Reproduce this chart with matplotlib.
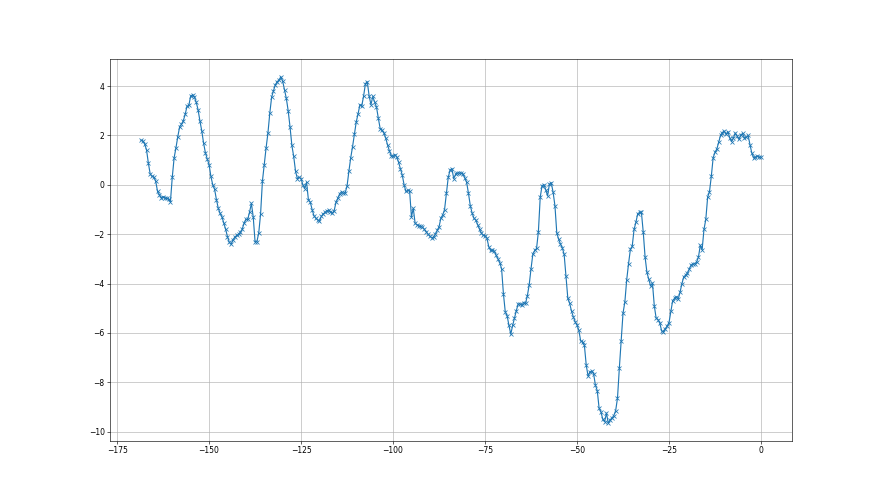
import numpy as np
import matplotlib
matplotlib.use("Agg")
import matplotlib.pyplot as plt

x_start = -168.5
x_step = 0.5

y_values = [
    1.80, 1.78, 1.65, 1.42, 0.88, 0.44, 0.34, 0.31, 0.14, -0.27,
    -0.40, -0.52, -0.48, -0.52, -0.55, -0.58, -0.68, 0.31, 1.09, 1.50,
    1.95, 2.35, 2.45, 2.60, 2.85, 3.18, 3.22, 3.60, 3.64, 3.56,
    3.35, 3.05, 2.60, 2.20, 1.70, 1.30, 1.05, 0.82, 0.34, 0.00,
    -0.18, -0.60, -0.95, -1.16, -1.30, -1.55, -1.80, -2.10, -2.33, -2.41,
    -2.22, -2.12, -2.05, -2.00, -1.92, -1.80, -1.56, -1.40,
    # -139.5
    -1.40, -1.11, -0.75, -1.30, -2.31, -2.30, -1.95, -1.18, 0.15, 0.82,
    1.50, 2.10, 2.90, 3.55, 3.81, 4.05, 4.18, 4.24, 4.38, 4.20,
    3.85, 3.50, 3.00, 2.35, 1.60, 1.15, 0.55, 0.25, 0.31, 0.25,
    0.00, -0.15, 0.10, -0.61, -0.70, -1.00, -1.25, -1.35, -1.42, -1.48,
    -1.28, -1.18, -1.12, -1.05, -1.03, -1.10, -1.15, -1.05, -0.70, -0.54,
    -0.36, -0.28, -0.35, -0.32, -0.05, 0.55, 1.10, 1.55, 2.05, 2.55,
    2.88, 3.25, 3.20, 3.60, 4.10, 4.18, 3.60, 3.25, 3.58, 3.35,
    3.15, 2.70, 2.28, 2.22, 2.10, 1.90, 1.62, 1.38, 1.18, 1.15,
    1.22, 1.13, 0.92, 0.65, 0.40, 0.00, -0.27, -0.23, -0.25, -1.30,
    -0.95, -1.56, -1.62, -1.66, -1.68, -1.72, -1.80, -1.90, -2.00, -2.08,
    -2.15, -2.12, -2.00, -1.85, -1.70, -1.35, -1.22, -1.00, -0.35, 0.30,
    0.60, 0.65, 0.25, 0.43, 0.48, 0.48, 0.47, 0.45, 0.28, 0.10,
    -0.35, -0.85, -1.15, -1.36, -1.43, -1.62, -1.80, -1.95, -2.05, -2.06,
    -2.15, -2.50, -2.66, -2.66, -2.68, -2.85, -3.00, -3.15, -3.40, -4.42,
    -5.15, -5.30, -5.70, -6.05, -5.70, -5.40, -5.10, -4.83, -4.83, -4.88,
    -4.77, -4.80, -4.50, -4.05, -3.40, -2.80, -2.66, -2.58, -1.90, -0.50,
    -0.03, 0.00, -0.20, -0.45, 0.03, 0.08, -0.30, -0.85, -1.95, -2.20,
    -2.40, -2.55, -2.82, -3.70, -4.60, -4.80, -5.12, -5.35, -5.55, -5.68,
    -5.90, -6.33, -6.37, -6.50, -7.30, -7.75, -7.58, -7.55, -7.65, -8.12,
    -8.34, -9.05, -9.20, -9.50, -9.60, -9.25, -9.66, -9.52, -9.45, -9.35,
    -9.15, -8.64, -7.43, -6.33, -5.20, -4.75, -3.85, -3.20, -2.62, -2.49,
    -1.81, -1.52, -1.17, -1.12, -1.12, -1.92, -2.93, -3.55, -3.82, -4.10,
    -3.98, -4.90, -5.40, -5.46, -5.60, -5.92, -5.96, -5.83, -5.72, -5.58,
    -5.13, -4.69, -4.60, -4.53, -4.63, -4.35, -4.01, -3.73, -3.66, -3.58,
    -3.42, -3.25, -3.21, -3.20, -3.13, -2.93, -2.45, -2.63, -1.81, -1.40,
    -0.50, -0.28, 0.35, 1.10, 1.32, 1.45, 1.72, 2.00, 2.12, 2.18,
    2.04, 2.16, 1.90, 1.75, 1.90, 2.10, 1.97, 1.84, 2.02, 2.08,
    1.90, 1.92, 2.00, 1.63, 1.29, 1.09, 1.13, 1.16, 1.13, 1.12,
]

x_values = x_start + x_step * np.arange(len(y_values))

fig = plt.figure(figsize=(16, 9), dpi=55)
ax = fig.add_subplot(111)
ax.plot(x_values, y_values, marker="x", color="#1f77b4", linewidth=1.5, markersize=6)
ax.grid(True)
fig.savefig("out.png", dpi=55)
